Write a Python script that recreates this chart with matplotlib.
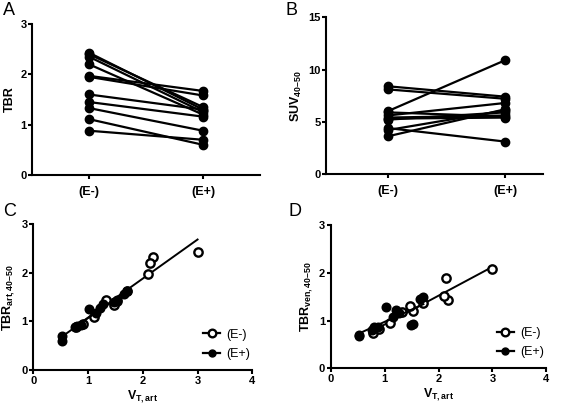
import numpy as np
import matplotlib
matplotlib.use("Agg")
import matplotlib.pyplot as plt
from matplotlib.lines import Line2D

plt.rcParams['font.family'] = ['Liberation Sans', 'DejaVu Sans']
plt.rcParams['mathtext.fontset'] = 'custom'
plt.rcParams['mathtext.rm'] = 'Liberation Sans:bold'
plt.rcParams['mathtext.bf'] = 'Liberation Sans:bold'
plt.rcParams['mathtext.it'] = 'Liberation Sans:bold'

# Panel A: TBR per subject, (E-) vs (E+)
tbr_neg = [2.43, 2.40, 2.35, 2.20, 1.97, 1.95, 1.60, 1.45, 1.33, 1.11, 0.88]
tbr_pos = [1.30, 1.35, 1.25, 1.20, 1.67, 1.58, 1.30, 1.16, 0.88, 0.60, 0.70]

# Panel B: SUV40-50 per subject
suv_neg = [8.4, 8.1, 6.0, 5.9, 5.6, 5.4, 5.2, 5.3, 4.4, 4.2, 3.6]
suv_pos = [7.4, 7.2, 10.9, 5.5, 6.8, 5.6, 5.9, 5.4, 3.1, 6.1, 6.2]

# Panel C/D: VT,art vs TBR (arterial / venous)
vt_neg = [3.00, 2.18, 2.13, 2.10, 1.72, 1.52, 1.33, 1.47, 1.10, 0.78, 0.90]
tbr_art_neg = [2.42, 2.33, 2.20, 1.98, 1.62, 1.43, 1.45, 1.33, 1.10, 0.88, 0.94]
tbr_ven_neg = [2.07, 1.44, 1.90, 1.51, 1.36, 1.20, 1.18, 1.30, 0.94, 0.73, 0.82]

vt_pos = [0.52, 0.53, 0.76, 0.80, 0.88, 1.02, 1.15, 1.22, 1.27, 1.48, 1.52, 1.65, 1.72]
tbr_art_pos = [0.60, 0.70, 0.88, 0.90, 0.93, 1.25, 1.18, 1.28, 1.35, 1.40, 1.45, 1.57, 1.63]
tbr_ven_pos = [0.68, 0.70, 0.80, 0.86, 0.87, 1.29, 1.08, 1.22, 1.15, 0.90, 0.93, 1.45, 1.50]

groups = ['(E-)', '(E+)']

fig = plt.figure(figsize=(5.66, 4.07), dpi=100)


def style(ax):
    for s in ['top', 'right']:
        ax.spines[s].set_visible(False)
    for s in ['left', 'bottom']:
        ax.spines[s].set_linewidth(1.5)
    ax.tick_params(width=1.5, length=3, labelsize=8, pad=1)
    for lab in ax.get_xticklabels() + ax.get_yticklabels():
        lab.set_fontweight('bold')


def paired(ax, neg, pos, ylim, yticks, ylabel):
    for a, b in zip(neg, pos):
        ax.plot([0, 1], [a, b], color='black', lw=1.6, marker='o', ms=6)
    ax.set_ylim(*ylim)
    ax.set_yticks(yticks)
    ax.set_xticks([0, 1])
    ax.set_xticklabels(groups)
    ax.set_ylabel(ylabel, fontsize=9, fontweight='bold', labelpad=3)
    style(ax)
    ax.tick_params(axis='x', pad=5, labelsize=9)


axA = fig.add_axes([0.0565, 0.570, 0.403, 0.371])
paired(axA, tbr_neg, tbr_pos, (0, 3), [0, 1, 2, 3], 'TBR')
axA.set_xlim(-0.5, 1.5)

axB = fig.add_axes([0.5765, 0.5725, 0.383, 0.385])
paired(axB, suv_neg, suv_pos, (0, 15), [0, 5, 10, 15], r'$\mathbf{SUV}_{\mathbf{40–50}}$')
axB.set_xlim(-0.52, 1.32)


def corr(ax, yneg, ypos, ylabel):
    for x, y, face in [(vt_neg, yneg, 'white'), (vt_pos, ypos, 'black')]:
        x = np.array(x)
        y = np.array(y)
        k, c = np.polyfit(x, y, 1)
        xs = np.array([x.min(), x.max()])
        ax.plot(xs, k * xs + c, color='black', lw=1.4)
        ax.plot(x, y, ls='none', marker='o', ms=6 if face == 'white' else 5.5,
                mfc=face, mec='black', mew=1.7)
    ax.set_xlim(0, 4)
    ax.set_ylim(0, 3)
    ax.set_xticks([0, 1, 2, 3, 4])
    ax.set_yticks([0, 1, 2, 3])
    ax.set_xlabel(r'$\mathbf{V}_{\mathbf{T,art}}$', fontsize=9, labelpad=2)
    ax.set_ylabel(ylabel, fontsize=9, labelpad=3)
    style(ax)
    handles = [Line2D([], [], color='black', lw=1.6, marker='o', ms=5.5, mfc='white', mew=1.7),
               Line2D([], [], color='black', lw=1.6, marker='o', ms=5)]
    ax.legend(handles, groups, loc='lower right', bbox_to_anchor=(1.04, -0.01),
              frameon=False, fontsize=9, handlelength=1.3, handletextpad=0.5,
              labelspacing=0.6)


axC = fig.add_axes([0.0588, 0.0909, 0.387, 0.358])
corr(axC, tbr_art_neg, tbr_art_pos, r'$\mathbf{TBR}_{\mathbf{art,40–50}}$')

axD = fig.add_axes([0.5843, 0.0951, 0.381, 0.352])
corr(axD, tbr_ven_neg, tbr_ven_pos, r'$\mathbf{TBR}_{\mathbf{ven,40–50}}$')

for label, x, y in [('A', 0.005, 0.995), ('B', 0.505, 0.995), ('C', 0.005, 0.50), ('D', 0.51, 0.50)]:
    fig.text(x, y, label, fontsize=13, ha='left', va='top')

fig.savefig('out.png', dpi=100)
